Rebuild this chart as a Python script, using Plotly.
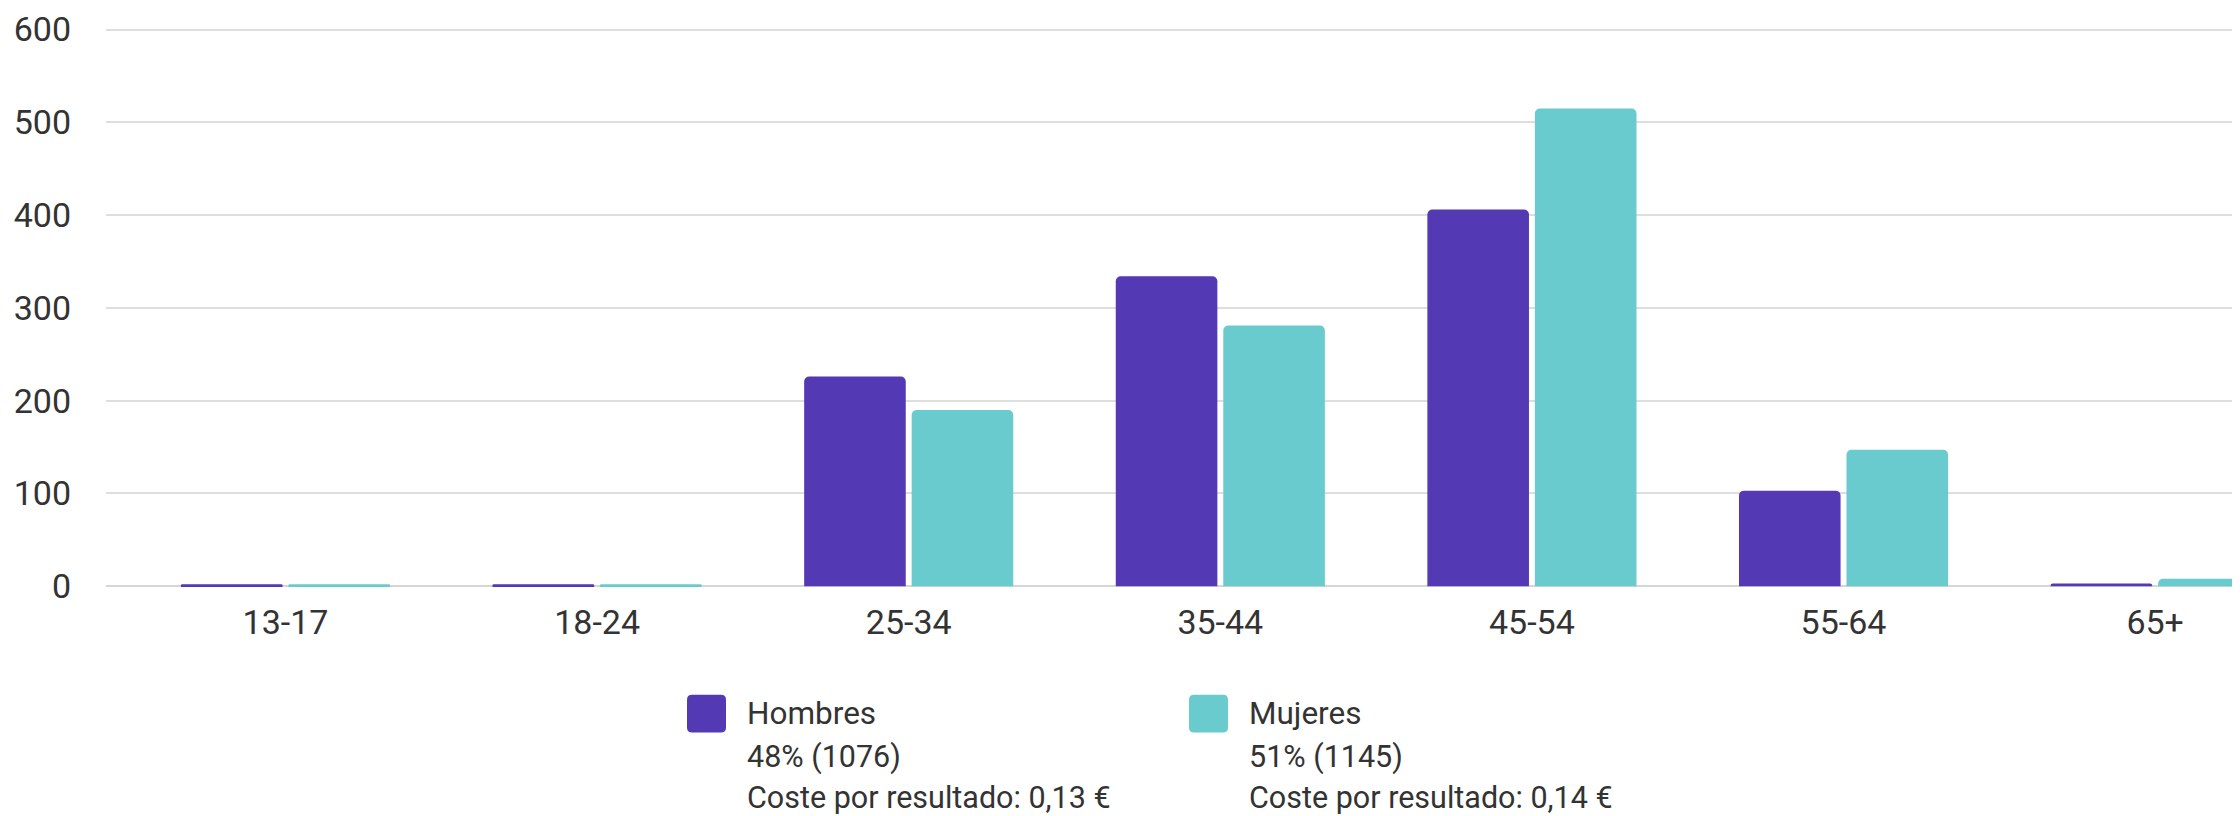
import plotly.graph_objects as go

# ---- data ----
categories = ["13-17", "18-24", "25-34", "35-44", "45-54", "55-64", "65+"]
hombres = [2, 2, 226, 334, 406, 103, 3]
mujeres = [2, 2, 190, 281, 515, 147, 8]
series_names = ["Hombres", "Mujeres"]
series_pct = ["48% (1076)", "51% (1145)"]
series_cost = ["Coste por resultado: 0,13 €", "Coste por resultado: 0,14 €"]
y_ticks = [0, 100, 200, 300, 400, 500, 600]

# ---- style ----
W, H = 2240, 816
ML, MR, MT, MB = 98, 0, 15.95, 234.7
C_H = "#5439b5"
C_M = "#69cbcd"
TXT = "#333333"
GRID = "#dedede"
FONT = "Roboto"

fig = go.Figure()
fig.add_trace(go.Bar(x=categories, y=hombres, name=series_names[0],
                     marker=dict(color=C_H, line=dict(width=0))))
fig.add_trace(go.Bar(x=categories, y=mujeres, name=series_names[1],
                     marker=dict(color=C_M, line=dict(width=0))))

pw = W - ML - MR
ph = H - MT - MB


def px_x(x):
    return (x - ML) / pw


def px_y(y):
    return (H - MB - y) / ph


shapes = []
annotations = []


def rounded_rect(x0, y0, x1, y1, r, color):
    X0, X1 = px_x(x0), px_x(x1)
    Y0, Y1 = px_y(y0), px_y(y1)  # Y0 top (bigger), Y1 bottom
    rx = r / pw
    ry = r / ph
    path = (f"M {X0+rx},{Y0} L {X1-rx},{Y0} Q {X1},{Y0} {X1},{Y0-ry} "
            f"L {X1},{Y1+ry} Q {X1},{Y1} {X1-rx},{Y1} "
            f"L {X0+rx},{Y1} Q {X0},{Y1} {X0},{Y1+ry} "
            f"L {X0},{Y0-ry} Q {X0},{Y0} {X0+rx},{Y0} Z")
    return dict(type="path", path=path, xref="paper", yref="paper",
                fillcolor=color, line=dict(width=0), layer="above")


legend_sq_x = [679, 1181]
legend_txt_x = [737, 1239]
colors = [C_H, C_M]
for i in range(2):
    shapes.append(rounded_rect(legend_sq_x[i], 687, legend_sq_x[i] + 39, 725, 5, colors[i]))
    for txt, yc, fs in [(series_names[i], 706, 31.5), (series_pct[i], 749, 30.5),
                        (series_cost[i], 790, 30.5)]:
        annotations.append(dict(text=txt, x=px_x(legend_txt_x[i]), y=px_y(yc),
                                xref="paper", yref="paper", xanchor="left",
                                yanchor="middle", showarrow=False,
                                font=dict(family=FONT, size=fs, color=TXT)))

fig.update_layout(
    width=W, height=H,
    margin=dict(l=ML, r=MR, t=MT, b=MB, pad=0),
    paper_bgcolor="white", plot_bgcolor="white",
    barmode="group", bargap=0.31, bargroupgap=0.055,
    barcornerradius=5,
    showlegend=False,
    font=dict(family=FONT, size=34, color=TXT),
    xaxis=dict(range=[-0.576, 6.298], showgrid=False, showline=False,
               zeroline=False, ticks="", ticklabelstandoff=10,
               tickfont=dict(family=FONT, size=34, color=TXT)),
    yaxis=dict(range=[-3, 606], tickvals=y_ticks, showgrid=True,
               gridcolor=GRID, gridwidth=2, zeroline=True,
               zerolinecolor="#d6d6d6", zerolinewidth=2, showline=False,
               ticks="", ticklabelstandoff=34,
               tickfont=dict(family=FONT, size=34, color=TXT)),
    shapes=shapes,
    annotations=annotations,
)

fig.write_html("out.html")
